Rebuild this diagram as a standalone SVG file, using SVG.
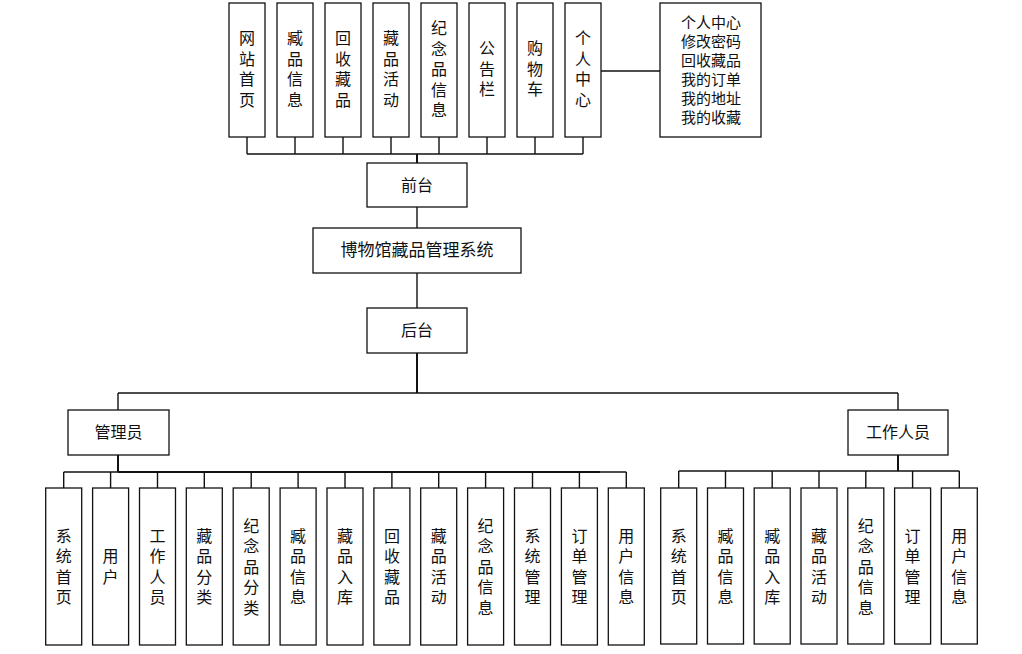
<svg xmlns="http://www.w3.org/2000/svg" width="1022" height="654" viewBox="0 0 1022 654">
<style>
.b{fill:#fff;stroke:#111;stroke-width:1.3}
.t{font-family:"Liberation Serif","Noto Sans CJK SC",serif;font-size:16px;fill:#111;text-anchor:middle;dominant-baseline:central}
.s{font-size:15px}
.m{font-size:17px}
#connectors line{stroke:#111;stroke-width:1.4}
</style>
<rect width="1022" height="654" fill="#fff"/>
<g id="connectors">
<line x1="247" y1="137" x2="247" y2="154"/><line x1="295" y1="137" x2="295" y2="154"/><line x1="343" y1="137" x2="343" y2="154"/><line x1="391" y1="137" x2="391" y2="154"/><line x1="439" y1="137" x2="439" y2="154"/><line x1="487" y1="137" x2="487" y2="154"/><line x1="535" y1="137" x2="535" y2="154"/><line x1="583" y1="137" x2="583" y2="154"/>
<line x1="247" y1="154" x2="583" y2="154"/>
<line x1="417" y1="154" x2="417" y2="163" style="stroke-width:2"/>
<line x1="601" y1="71" x2="660" y2="71"/>
<line x1="417" y1="207" x2="417" y2="228"/>
<line x1="417" y1="273" x2="417" y2="308"/>
<line x1="417" y1="353" x2="417" y2="393" style="stroke-width:2"/>
<line x1="118" y1="393" x2="898" y2="393"/>
<line x1="118" y1="393" x2="118" y2="410"/>
<line x1="898" y1="393" x2="898" y2="410"/>
<line x1="118" y1="455" x2="118" y2="472" style="stroke-width:2"/>
<line x1="63.7" y1="472" x2="626.3" y2="472"/>
<line x1="118" y1="472" x2="600" y2="472" style="stroke-width:2"/>
<line x1="63.7" y1="472" x2="63.7" y2="488"/><line x1="110.6" y1="472" x2="110.6" y2="488"/><line x1="157.5" y1="472" x2="157.5" y2="488"/><line x1="204.3" y1="472" x2="204.3" y2="488"/><line x1="251.2" y1="472" x2="251.2" y2="488"/><line x1="298.1" y1="472" x2="298.1" y2="488"/><line x1="345" y1="472" x2="345" y2="488"/><line x1="391.9" y1="472" x2="391.9" y2="488"/><line x1="438.7" y1="472" x2="438.7" y2="488"/><line x1="485.6" y1="472" x2="485.6" y2="488"/><line x1="532.5" y1="472" x2="532.5" y2="488"/><line x1="579.4" y1="472" x2="579.4" y2="488"/><line x1="626.3" y1="472" x2="626.3" y2="488"/>
<line x1="898" y1="455" x2="898" y2="471" style="stroke-width:2"/>
<line x1="678.7" y1="471" x2="959.3" y2="471"/>
<line x1="678.7" y1="471" x2="678.7" y2="488"/><line x1="725.5" y1="471" x2="725.5" y2="488"/><line x1="772.2" y1="471" x2="772.2" y2="488"/><line x1="819" y1="471" x2="819" y2="488"/><line x1="865.8" y1="471" x2="865.8" y2="488"/><line x1="912.6" y1="471" x2="912.6" y2="488"/><line x1="959.3" y1="471" x2="959.3" y2="488"/>
</g>

<g id="top1"><rect class="b" x="229" y="3" width="36" height="134"/><text class="t"><tspan x="247" y="38.3">网</tspan><tspan x="247" y="58.8">站</tspan><tspan x="247" y="79.3">首</tspan><tspan x="247" y="99.8">页</tspan></text></g>
<g id="top2"><rect class="b" x="277" y="3" width="36" height="134"/><text class="t"><tspan x="295" y="38.3">臧</tspan><tspan x="295" y="58.8">品</tspan><tspan x="295" y="79.3">信</tspan><tspan x="295" y="99.8">息</tspan></text></g>
<g id="top3"><rect class="b" x="325" y="3" width="36" height="134"/><text class="t"><tspan x="343" y="38.3">回</tspan><tspan x="343" y="58.8">收</tspan><tspan x="343" y="79.3">藏</tspan><tspan x="343" y="99.8">品</tspan></text></g>
<g id="top4"><rect class="b" x="373" y="3" width="36" height="134"/><text class="t"><tspan x="391" y="38.3">藏</tspan><tspan x="391" y="58.8">品</tspan><tspan x="391" y="79.3">活</tspan><tspan x="391" y="99.8">动</tspan></text></g>
<g id="top5"><rect class="b" x="421" y="3" width="36" height="134"/><text class="t"><tspan x="439" y="28">纪</tspan><tspan x="439" y="48.5">念</tspan><tspan x="439" y="69">品</tspan><tspan x="439" y="89.5">信</tspan><tspan x="439" y="110">息</tspan></text></g>
<g id="top6"><rect class="b" x="469" y="3" width="36" height="134"/><text class="t"><tspan x="487" y="48">公</tspan><tspan x="487" y="68.5">告</tspan><tspan x="487" y="89">栏</tspan></text></g>
<g id="top7"><rect class="b" x="517" y="3" width="36" height="134"/><text class="t"><tspan x="535" y="48">购</tspan><tspan x="535" y="68.5">物</tspan><tspan x="535" y="89">车</tspan></text></g>
<g id="top8"><rect class="b" x="565" y="3" width="36" height="134"/><text class="t"><tspan x="583" y="38.3">个</tspan><tspan x="583" y="58.8">人</tspan><tspan x="583" y="79.3">中</tspan><tspan x="583" y="99.8">心</tspan></text></g>

<g id="personal"><rect class="b" x="660" y="3" width="101" height="134"/><text class="t s"><tspan x="711" y="23">个人中心</tspan><tspan x="711" y="42">修改密码</tspan><tspan x="711" y="61">回收藏品</tspan><tspan x="711" y="80">我的订单</tspan><tspan x="711" y="99">我的地址</tspan><tspan x="711" y="118">我的收藏</tspan></text></g>

<g id="front"><rect class="b" x="367" y="163" width="100" height="44"/><text class="t" x="417" y="185">前台</text></g>
<g id="system"><rect class="b" x="313" y="228" width="208" height="45"/><text class="t m" x="417" y="250.5">博物馆藏品管理系统</text></g>
<g id="back"><rect class="b" x="367" y="308" width="100" height="45"/><text class="t" x="417" y="330.5">后台</text></g>
<g id="admin"><rect class="b" x="68" y="410" width="101" height="45"/><text class="t" x="118.5" y="432.5">管理员</text></g>
<g id="staff"><rect class="b" x="848" y="410" width="100" height="45"/><text class="t" x="898" y="432.5">工作人员</text></g>

<g id="a1"><rect class="b" x="45.7" y="488" width="36" height="157"/><text class="t"><tspan x="63.7" y="535.5">系</tspan><tspan x="63.7" y="556">统</tspan><tspan x="63.7" y="576.5">首</tspan><tspan x="63.7" y="597">页</tspan></text></g>
<g id="a2"><rect class="b" x="92.6" y="488" width="36" height="157"/><text class="t"><tspan x="110.6" y="556">用</tspan><tspan x="110.6" y="577">户</tspan></text></g>
<g id="a3"><rect class="b" x="139.5" y="488" width="36" height="157"/><text class="t"><tspan x="157.5" y="535.5">工</tspan><tspan x="157.5" y="556">作</tspan><tspan x="157.5" y="576.5">人</tspan><tspan x="157.5" y="597">员</tspan></text></g>
<g id="a4"><rect class="b" x="186.3" y="488" width="36" height="157"/><text class="t"><tspan x="204.3" y="535.5">藏</tspan><tspan x="204.3" y="556">品</tspan><tspan x="204.3" y="576.5">分</tspan><tspan x="204.3" y="597">类</tspan></text></g>
<g id="a5"><rect class="b" x="233.2" y="488" width="36" height="157"/><text class="t"><tspan x="251.2" y="525.5">纪</tspan><tspan x="251.2" y="546">念</tspan><tspan x="251.2" y="566.5">品</tspan><tspan x="251.2" y="587">分</tspan><tspan x="251.2" y="607.5">类</tspan></text></g>
<g id="a6"><rect class="b" x="280.1" y="488" width="36" height="157"/><text class="t"><tspan x="298.1" y="535.5">臧</tspan><tspan x="298.1" y="556">品</tspan><tspan x="298.1" y="576.5">信</tspan><tspan x="298.1" y="597">息</tspan></text></g>
<g id="a7"><rect class="b" x="327" y="488" width="36" height="157"/><text class="t"><tspan x="345" y="535.5">藏</tspan><tspan x="345" y="556">品</tspan><tspan x="345" y="576.5">入</tspan><tspan x="345" y="597">库</tspan></text></g>
<g id="a8"><rect class="b" x="373.9" y="488" width="36" height="157"/><text class="t"><tspan x="391.9" y="535.5">回</tspan><tspan x="391.9" y="556">收</tspan><tspan x="391.9" y="576.5">藏</tspan><tspan x="391.9" y="597">品</tspan></text></g>
<g id="a9"><rect class="b" x="420.7" y="488" width="36" height="157"/><text class="t"><tspan x="438.7" y="535.5">藏</tspan><tspan x="438.7" y="556">品</tspan><tspan x="438.7" y="576.5">活</tspan><tspan x="438.7" y="597">动</tspan></text></g>
<g id="a10"><rect class="b" x="467.6" y="488" width="36" height="157"/><text class="t"><tspan x="485.6" y="525.5">纪</tspan><tspan x="485.6" y="546">念</tspan><tspan x="485.6" y="566.5">品</tspan><tspan x="485.6" y="587">信</tspan><tspan x="485.6" y="607.5">息</tspan></text></g>
<g id="a11"><rect class="b" x="514.5" y="488" width="36" height="157"/><text class="t"><tspan x="532.5" y="535.5">系</tspan><tspan x="532.5" y="556">统</tspan><tspan x="532.5" y="576.5">管</tspan><tspan x="532.5" y="597">理</tspan></text></g>
<g id="a12"><rect class="b" x="561.4" y="488" width="36" height="157"/><text class="t"><tspan x="579.4" y="535.5">订</tspan><tspan x="579.4" y="556">单</tspan><tspan x="579.4" y="576.5">管</tspan><tspan x="579.4" y="597">理</tspan></text></g>
<g id="a13"><rect class="b" x="608.3" y="488" width="36" height="157"/><text class="t"><tspan x="626.3" y="535.5">用</tspan><tspan x="626.3" y="556">户</tspan><tspan x="626.3" y="576.5">信</tspan><tspan x="626.3" y="597">息</tspan></text></g>

<g id="s1"><rect class="b" x="660.7" y="488" width="36" height="156"/><text class="t"><tspan x="678.7" y="535.5">系</tspan><tspan x="678.7" y="556">统</tspan><tspan x="678.7" y="576.5">首</tspan><tspan x="678.7" y="597">页</tspan></text></g>
<g id="s2"><rect class="b" x="707.5" y="488" width="36" height="156"/><text class="t"><tspan x="725.5" y="535.5">臧</tspan><tspan x="725.5" y="556">品</tspan><tspan x="725.5" y="576.5">信</tspan><tspan x="725.5" y="597">息</tspan></text></g>
<g id="s3"><rect class="b" x="754.2" y="488" width="36" height="156"/><text class="t"><tspan x="772.2" y="535.5">臧</tspan><tspan x="772.2" y="556">品</tspan><tspan x="772.2" y="576.5">入</tspan><tspan x="772.2" y="597">库</tspan></text></g>
<g id="s4"><rect class="b" x="801" y="488" width="36" height="156"/><text class="t"><tspan x="819" y="535.5">藏</tspan><tspan x="819" y="556">品</tspan><tspan x="819" y="576.5">活</tspan><tspan x="819" y="597">动</tspan></text></g>
<g id="s5"><rect class="b" x="847.8" y="488" width="36" height="156"/><text class="t"><tspan x="865.8" y="525.5">纪</tspan><tspan x="865.8" y="546">念</tspan><tspan x="865.8" y="566.5">品</tspan><tspan x="865.8" y="587">信</tspan><tspan x="865.8" y="607.5">息</tspan></text></g>
<g id="s6"><rect class="b" x="894.6" y="488" width="36" height="156"/><text class="t"><tspan x="912.6" y="535.5">订</tspan><tspan x="912.6" y="556">单</tspan><tspan x="912.6" y="576.5">管</tspan><tspan x="912.6" y="597">理</tspan></text></g>
<g id="s7"><rect class="b" x="941.3" y="488" width="36" height="156"/><text class="t"><tspan x="959.3" y="535.5">用</tspan><tspan x="959.3" y="556">户</tspan><tspan x="959.3" y="576.5">信</tspan><tspan x="959.3" y="597">息</tspan></text></g>
</svg>
